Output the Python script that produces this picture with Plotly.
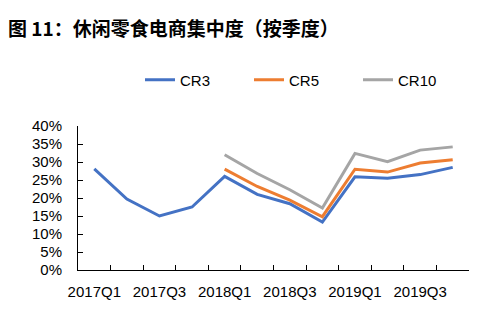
import plotly.graph_objects as go

quarters = ["2017Q1", "2017Q2", "2017Q3", "2017Q4",
            "2018Q1", "2018Q2", "2018Q3", "2018Q4",
            "2019Q1", "2019Q2", "2019Q3", "2019Q4"]
tick_labels = [q if i % 2 == 0 else "" for i, q in enumerate(quarters)]

cr3 = [28.1, 19.7, 15.0, 17.5, 26.0, 21.0, 18.4, 13.3, 25.9, 25.5, 26.5, 28.5]
cr5 = [None, None, None, None, 28.0, 23.2, 19.4, 14.8, 28.0, 27.2, 29.7, 30.6]
cr10 = [None, None, None, None, 32.0, 26.8, 22.3, 17.2, 32.4, 30.1, 33.3, 34.2]

series = [("CR3", cr3, "#4472C4"), ("CR5", cr5, "#ED7D31"), ("CR10", cr10, "#A5A5A5")]

fig = go.Figure()
for name, vals, color in series:
    fig.add_trace(go.Scatter(x=quarters, y=vals, name=name, mode="lines",
                             line=dict(color=color, width=3), connectgaps=False))

font_family = "Liberation Sans, Arial, sans-serif"
fig.update_layout(
    width=482, height=324,
    margin=dict(l=78, r=13, t=126, b=54),
    paper_bgcolor="white", plot_bgcolor="white",
    font=dict(family=font_family, size=15, color="#000000"),
    showlegend=True,
    legend=dict(orientation="h", x=(140 - 78) / 391, xanchor="left",
                y=1 + (126 - 80) / 144, yanchor="middle",
                font=dict(size=15), entrywidth=64, entrywidthmode="pixels",
                traceorder="normal"),
    xaxis=dict(type="category", tickvals=quarters, ticktext=tick_labels,
               range=[-0.5, len(quarters) - 0.5],
               tickson="boundaries", ticks="inside", ticklen=5, tickcolor="#000",
               showline=True, linecolor="#000", linewidth=1, showgrid=False,
               tickfont=dict(size=15), tickangle=0, ticklabelstandoff=8),
    yaxis=dict(range=[0, 40], dtick=5, ticksuffix="%", ticks="inside", ticklen=5,
               tickcolor="#000", showline=True, linecolor="#000", linewidth=1,
               showgrid=False, zeroline=False, tickfont=dict(size=15),
               ticklabelstandoff=12),
)

fig.add_annotation(text="<b>图 11：休闲零食电商集中度（按季度）</b>", xref="paper", yref="paper",
                   x=-72/391, y=1 + (126-27)/144, xanchor="left", yanchor="middle",
                   showarrow=False,
                   font=dict(family="Noto Sans CJK SC", size=19, color="#000"))

fig.write_html("out.html")
